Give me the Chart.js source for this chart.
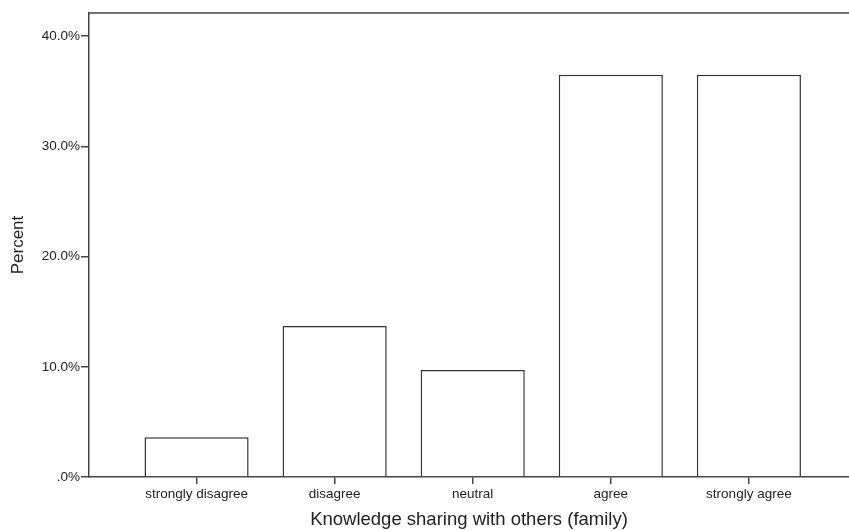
<!DOCTYPE html>
<html>
<head>
<meta charset="utf-8">
<script src="https://cdn.jsdelivr.net/npm/chart.js@4/dist/chart.umd.min.js"></script>
<style>
  html, body { margin: 0; padding: 0; background: #fff; overflow: hidden; }
  #wrap { width: 849px; height: 531px; }
</style>
</head>
<body>
<div id="wrap"><canvas id="chart"></canvas></div>
<script>
const categories = ["strongly disagree", "disagree", "neutral", "agree", "strongly agree"];
const percents = [3.6, 13.7, 9.7, 36.5, 36.5];
const yTicks = [0, 10, 20, 30, 40];
const yTickLabels = [".0%", "10.0%", "20.0%", "30.0%", "40.0%"];

const lineColor = "#444";
const fontFamily = "Liberation Sans, Arial, sans-serif";

// SPSS style frame: top line across the plot area
const topLine = {
  id: "topLine",
  afterDraw(chart) {
    const { ctx, chartArea } = chart;
    ctx.save();
    ctx.strokeStyle = lineColor;
    ctx.lineWidth = 1.5;
    ctx.beginPath();
    ctx.moveTo(chartArea.left, chartArea.top);
    ctx.lineTo(chartArea.right, chartArea.top);
    ctx.stroke();
    ctx.restore();
  }
};

const ctx = document.getElementById("chart").getContext("2d");
new Chart(ctx, {
  type: "bar",
  data: {
    datasets: [{
      data: percents.map((v, i) => ({ x: i, y: v })),
      backgroundColor: "#ffffff",
      borderColor: "#333",
      borderWidth: 1.5,
      barPercentage: 0.754,
      categoryPercentage: 1
    }]
  },
  options: {
    responsive: true,
    maintainAspectRatio: false,
    animation: false,
    layout: { padding: { top: 13, right: 0, bottom: 0, left: 0 } },
    plugins: { legend: { display: false }, tooltip: { enabled: false } },
    scales: {
      x: {
        type: "linear",
        offset: false,
        min: -0.779,
        max: 4.725,
        afterBuildTicks: (scale) => { scale.ticks = categories.map((c, i) => ({ value: i })); },
        afterFit: (scale) => { scale.height = 54; },
        ticks: {
          autoSkip: false,
          maxRotation: 0,
          color: "#222",
          padding: 2,
          font: { family: fontFamily, size: 13.5 },
          callback: (v) => categories[v]
        },
        grid: { offset: false, drawOnChartArea: false, drawTicks: true, tickLength: 7, color: lineColor, lineWidth: 1.5 },
        border: { color: lineColor, width: 1.5 },
        title: {
          display: true,
          text: "Knowledge sharing with others (family)",
          color: "#222",
          font: { family: fontFamily, size: 18.5 },
          padding: { top: 0, bottom: 0 }
        }
      },
      y: {
        min: 0,
        max: 42.1,
        afterBuildTicks: (scale) => { scale.ticks = yTicks.map(v => ({ value: v })); },
        afterFit: (scale) => { scale.width = 89; },
        ticks: {
          color: "#222",
          padding: 1,
          font: { family: fontFamily, size: 13.5 },
          callback: (v) => yTickLabels[yTicks.indexOf(v)]
        },
        grid: { drawOnChartArea: false, drawTicks: true, tickLength: 8, color: lineColor, lineWidth: 1.5 },
        border: { color: lineColor, width: 1.5 },
        title: {
          display: true,
          text: "Percent",
          color: "#222",
          font: { family: fontFamily, size: 17 },
          padding: { top: 8, bottom: 0 }
        }
      }
    }
  },
  plugins: [topLine]
});
</script>
</body>
</html>
